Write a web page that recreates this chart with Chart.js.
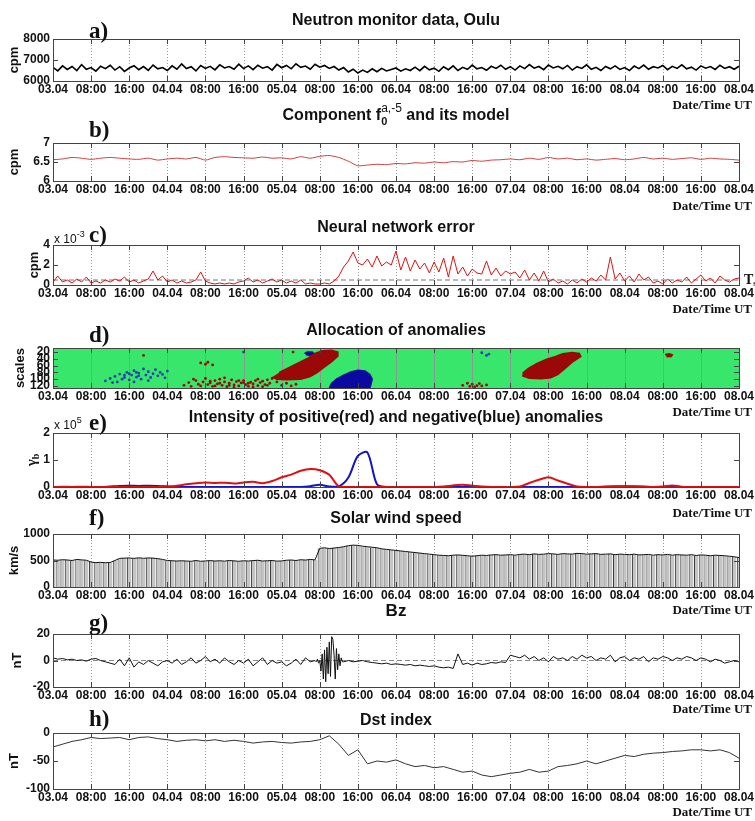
<!DOCTYPE html>
<html>
<head>
<meta charset="utf-8">
<title>Neutron monitor anomalies</title>
<script src="https://cdn.jsdelivr.net/npm/chart.js@4.4.1/dist/chart.umd.min.js"></script>
<style>
  html, body { margin: 0; padding: 0; background: #fff; overflow: hidden; }
  #page { position: relative; width: 755px; height: 821px; }
  #page canvas { position: absolute; left: 0; }
</style>
</head>
<body>
<div id="page"></div>
<script>
const SANS = '"Liberation Sans", Arial, sans-serif';
const SERIF = '"Liberation Serif", "Times New Roman", serif';
Chart.defaults.font.family = SANS;

// time axis: hours counted from 03.04 00:00 UT, one tick every 8 hours
const tickLabels = ['03.04', '08:00', '16:00', '04.04', '08:00', '16:00', '05.04', '08:00', '16:00',
  '06.04', '08:00', '16:00', '07.04', '08:00', '16:00', '08.04', '08:00', '16:00', '08.04'];
const tickStep = 8;

// y tick values of each panel
const yTicksA = [6000, 7000, 8000];
const yTicksB = [6, 6.5, 7];
const yTicksC = [0, 2, 4];
const yTicksD = [20, 40, 60, 80, 100, 120];
const yTicksE = [0, 1, 2];
const yTicksF = [0, 500, 1000];
const yTicksG = [-20, 0, 20];
const yTicksH = [-100, -50, 0];

// a) neutron monitor Oulu, cpm, hourly
const neutron = [
  6650, 6480, 6720, 6550, 6690, 6500, 6780, 6560, 6640, 6470, 6700, 6590, 6750, 6520, 6680, 6460, 6620, 6730, 6540, 6690, 6510, 6760, 6580, 6640,
  6500, 6720, 6560, 6810, 6590, 6680, 6480, 6740, 6600, 6700, 6530, 6770, 6620, 6690, 6560, 6800, 6590, 6720, 6540, 6750, 6610, 6680, 6520, 6790,
  6630, 6740, 6580, 6820, 6650, 6710, 6560, 6800, 6660, 6740, 6600, 6690, 6520, 6640, 6430, 6560, 6380, 6520, 6410, 6580, 6440, 6600, 6480, 6550,
  6620, 6470, 6580, 6500, 6660, 6490, 6700, 6530, 6610, 6460, 6680, 6540, 6720, 6500, 6650, 6560, 6760, 6580, 6640, 6510, 6700, 6600, 6750, 6560,
  6680, 6520, 6720, 6590, 6780, 6610, 6690, 6540, 6760, 6620, 6700, 6580, 6740, 6520, 6680, 6600, 6770, 6560, 6650, 6500, 6690, 6580, 6720, 6550,
  6640, 6500, 6710, 6590, 6760, 6560, 6680, 6620, 6740, 6540, 6700, 6600, 6770, 6580, 6660, 6520, 6720, 6610, 6690, 6550, 6750, 6600, 6680, 6560, 6700
];

// b) component f0 and its model (x1000 cpm), every 2 hours
const component = [
  6.56, 6.58, 6.62, 6.60, 6.57, 6.60, 6.62, 6.60, 6.58, 6.57,
  6.60, 6.55, 6.58, 6.60, 6.58, 6.62, 6.55, 6.62, 6.64, 6.62,
  6.61, 6.60, 6.63, 6.60, 6.61, 6.58, 6.64, 6.60, 6.65, 6.67,
  6.62, 6.52, 6.40, 6.42, 6.44, 6.43, 6.46, 6.45, 6.48, 6.47,
  6.50, 6.48, 6.51, 6.50, 6.54, 6.52, 6.55, 6.56, 6.58, 6.56,
  6.60, 6.57, 6.62, 6.58, 6.60, 6.56, 6.58, 6.55, 6.57, 6.59,
  6.56, 6.58, 6.62, 6.58, 6.60, 6.57, 6.59, 6.61, 6.57, 6.60,
  6.58, 6.57, 6.55
];

// c) neural network error (x 10^-3), hourly, and threshold Ts
const nnError = [
  0.3, 0.9, 0.3, 0.5, 0.2, 0.6, 0.3, 0.8, 0.2, 0.4, 0.2, 0.5,
  0.3, 0.6, 0.4, 0.8, 0.3, 0.5, 0.2, 0.4, 0.6, 1.4, 0.5, 0.9,
  0.3, 0.5, 0.2, 0.4, 0.2, 0.3, 0.5, 1.3, 0.4, 0.2, 0.1, 0.2,
  0.1, 0.2, 0.1, 0.3, 0.4, 0.7, 0.3, 0.5, 0.2, 0.4, 0.6, 0.3,
  0.5, 0.2, 0.4, 0.2, 0.5, 0.1, 0.2, 0.1, 0.1, 0.2, 0.1, 0.4,
  0.9, 1.8, 2.4, 3.3, 2.2, 2.0, 2.6, 1.8, 2.9, 1.9, 2.3, 2.0,
  3.4, 1.5, 2.8, 1.4, 2.5, 1.6, 2.2, 1.2, 2.3, 1.3, 2.7, 0.8,
  2.9, 1.1, 1.8, 0.9, 1.6, 1.2, 1.1, 2.4, 1.0, 1.7, 0.9, 1.4,
  1.1, 1.3, 0.7, 1.5, 0.5, 1.2, 0.4, 1.4, 0.3, 0.6, 0.2, 0.4,
  0.1, 0.5, 0.2, 0.6, 0.3, 0.7, 0.4, 1.0, 0.5, 2.8, 0.6, 1.2,
  0.4, 0.9, 0.3, 1.1, 0.5, 0.8, 0.2, 0.4, 0.1, 0.6, 0.2, 0.5,
  0.3, 0.8, 0.2, 0.6, 1.0, 0.4, 0.7, 0.2, 0.9, 0.5, 0.3, 0.6, 0.7
];
const threshold = 0.5;

// d) allocation of anomalies: [hour, scale] outlines of the solid regions and scattered cells
const redRegion1 = [[46, 94], [47, 100], [49, 102], [52, 100], [54, 92], [55.5, 80], [57, 64], [58.5, 48], [59.8, 32],
  [59.8, 20], [58.5, 15], [56.5, 16], [55, 24], [53.5, 38], [51.5, 52], [49.5, 66], [47.5, 80]];
const redRegion2 = [[98.5, 90], [100, 97], [102.5, 99], [104.5, 96], [106, 86], [107.5, 68], [109, 50], [110.8, 33],
  [110.5, 24], [109, 21], [107, 25], [105.5, 33], [103.5, 42], [101.5, 54], [99.8, 68], [98.6, 82]];
const redRegion3 = [[128.5, 27], [129.3, 25], [130, 28], [129.8, 33], [128.8, 34]];
const blueRegion1 = [[58, 126], [58.5, 112], [59.5, 100], [61, 88], [62.5, 79], [64, 74], [65.5, 76], [66.5, 86],
  [67, 100], [66.8, 112], [66.5, 126]];
const blueRegion2 = [[52.8, 24], [53.4, 20], [54.4, 20], [54.8, 25], [54, 29], [53.1, 28]];
const redCells = [[27.5, 118], [28.5, 110], [29, 121], [30, 104], [30.5, 115], [31, 120], [31.5, 108], [32, 98],
  [32.5, 116], [33, 111], [33.5, 121], [34, 104], [34.5, 114], [35, 100], [35.5, 118], [36, 108], [36.5, 122],
  [37, 112], [37.5, 102], [38, 117], [38.5, 107], [39, 120], [39.5, 111], [40, 104], [40.5, 116], [41, 121],
  [41.5, 109], [42, 114], [42.5, 104], [43, 119], [43.5, 110], [44, 106], [44.5, 116], [45, 102], [45.5, 112],
  [46, 98], [47, 108], [48, 118], [49, 112], [50, 120], [51, 115], [29.5, 100], [36, 96], [38, 124], [42, 123],
  [33, 106], [35, 112], [37, 118], [39, 104], [41, 112], [43, 100], [45, 118], [34, 120], [40, 110], [44, 122],
  [31, 52], [32, 56], [32.5, 50], [33.5, 58], [19, 30], [50.4, 20],
  [86, 118], [87, 112], [87.5, 121], [88, 115], [89, 119], [89.5, 113], [90, 120], [91, 117], [88.5, 123]];
const blueCells = [[11, 105], [12, 98], [13, 92], [13.5, 108], [14, 85], [15, 95], [15.5, 80], [16, 102],
  [16.5, 88], [17, 75], [17.5, 94], [18, 82], [18.5, 100], [19, 70], [19.5, 88], [20, 78], [20.5, 95], [21, 84],
  [21.5, 72], [22, 90], [22.5, 80], [23, 86], [24, 76], [12.5, 110], [14.5, 100], [17, 108], [20, 104],
  [23.5, 96], [16, 84], [17.5, 80], [15, 88], [18, 90], [90, 22], [91, 30], [91.5, 26], [40, 20]];

// e) intensity of positive (red) and negative (blue) anomalies (x 10^5), every 2 hours
const positiveAnom = [
  0, 0.01, 0, 0.01, 0, 0, 0, 0, 0, 0,
  0, 0, 0.02, 0.05, 0.10, 0.14, 0.17, 0.15, 0.16, 0.13,
  0.17, 0.19, 0.14, 0.22, 0.36, 0.46, 0.60, 0.67, 0.62, 0.45,
  0.02, 0, 0, 0, 0, 0, 0, 0, 0, 0,
  0, 0.02, 0.06, 0.08, 0.05, 0.02, 0, 0, 0, 0.02,
  0.15, 0.27, 0.36, 0.24, 0.12, 0.02, 0, 0, 0, 0,
  0, 0, 0, 0, 0.02, 0.06, 0.01, 0, 0, 0,
  0, 0, 0
];
const negativeAnom = [
  0, 0, 0, 0, 0, 0, 0.02, 0.04, 0.05, 0.04,
  0.05, 0.04, 0.02, 0, 0, 0, 0, 0, 0, 0,
  0, 0, 0, 0, 0, 0, 0, 0.03, 0.08, 0.02,
  0.02, 0.35, 1.15, 1.28, 0.10, 0, 0, 0, 0, 0,
  0, 0, 0, 0, 0, 0, 0, 0, 0, 0,
  0, 0, 0, 0, 0, 0, 0, 0, 0.02, 0.03,
  0.03, 0.03, 0.02, 0, 0, 0, 0, 0, 0, 0,
  0, 0, 0
];

// f) solar wind speed, km/s, hourly
const windSpeed = [
  510, 505, 515, 510, 500, 520, 512, 505, 470, 460, 465, 458,
  462, 500, 540, 545, 548, 540, 550, 542, 548, 545, 535, 520,
  500, 495, 490, 495, 490, 485, 500, 485, 492, 498, 490, 495,
  488, 500, 493, 485, 495, 490, 498, 505, 490, 495, 500, 488,
  492, 505, 510, 500, 515, 508, 520, 512, 730, 740, 725, 735,
  745, 760, 780, 790, 785, 770, 760, 750, 740, 720, 710, 700,
  690, 680, 670, 660, 650, 640, 630, 620, 610, 600, 595, 590,
  600, 605, 598, 590, 580, 590, 600, 595, 605, 610, 600, 605,
  610, 600, 615, 620, 610, 625, 615, 620, 630, 625, 615, 630,
  625, 620, 635, 630, 620, 625, 630, 615, 620, 625, 610, 620,
  615, 610, 620, 605, 610, 615, 600, 610, 605, 615, 600, 610,
  605, 600, 610, 595, 605, 600, 590, 600, 595, 590, 580, 570, 555
];

// g) Bz, nT, hourly (gap filled by the 15-minute storm record)
const bz = [
  2, 1, 1.5, 0.5, 1, 0, 0.5, -0.5, 1, 1.5, 0, -1,
  -2, -3, 1, -4, 2, -5, -1, -3, 0, -2, -4, -1,
  0, -2, 1, -3, -1, 2, -2, 0, 3, -1, 1, -2,
  2, -1, -3, 0, -2, 1, -4, -1, 2, -3, 0, -2,
  -1, -4, -2, 1, -3, 2, -1, 0, null, null, null, null,
  null, -1, 0, -1, -0.5, 0, -1, -1.5, -2, -2.5, -2, -3,
  -2.5, -3, -3.5, -3, -4, -3.5, -4, -4.5, -4, -5, -5.5, -5,
  -6, 5, -3, -2, -3.5, -2, -3, -2.5, -1.5, -2, -1, -1.5,
  4, 3, 2, 4, 1, 3, 0, 2, -1, 3, 1, 2,
  0, 3, 1, 4, 2, 3, 0, 2, 1, 4, -1, 2,
  3, 0, 2, 1, 3, -1, 2, 1, 3, 2, 0, 2,
  1, 3, 2, 0, 2, 1, -1, 1, 0, -2, -1, 0, -1
];
const bzStormStart = 55;
const bzStorm = [0, -1, 1, -2, 0, -8, 5, -14, 8, -16, 10, -10, 14, -12, 18, 16, 4, -14, 9, -7, 5, -4, 2, -1, -1];

// h) Dst index, nT, every 2 hours
const dst = [
  -25, -20, -15, -12, -8, -10, -9, -8, -12, -8,
  -7, -10, -12, -15, -13, -12, -14, -12, -15, -13,
  -15, -18, -16, -15, -17, -18, -16, -15, -12, -5,
  -20, -40, -30, -55, -50, -52, -48, -55, -60, -58,
  -62, -60, -65, -70, -68, -75, -78, -75, -72, -70,
  -65, -70, -68, -60, -58, -55, -50, -55, -50, -45,
  -40, -42, -38, -36, -35, -33, -32, -30, -30, -32,
  -30, -35, -45
];

// ---------- helpers ----------
const series = (vals, step, start = 0) => vals.map((v, i) => ({x: start + i * step, y: v}));
const pts = arr => arr.map(([x, y]) => ({x, y}));
const lastHour = (tickLabels.length - 1) * tickStep;

const RED = '#e01010';
const DARKRED = '#9a0808';
const BLUE = '#1414c8';
const NAVY = '#0a0aa0';
const GREEN = '#38e66c';

const PAD_TOP = 40, PAD_BOTTOM = 38, X_AXIS_H = 18;
const B16 = 'bold 16px ' + SANS;

function rich(ctx, parts, x, y, align) {
  const widths = parts.map(p => { ctx.font = p.f; return ctx.measureText(p.t).width; });
  let w = 0;
  parts.forEach((p, i) => { if (!p.keep) w += widths[i]; });
  let cx = align === 'center' ? x - w / 2 : align === 'right' ? x - w : x;
  ctx.textAlign = 'left';
  ctx.textBaseline = 'middle';
  ctx.fillStyle = '#111';
  parts.forEach((p, i) => {
    ctx.font = p.f;
    ctx.fillText(p.t, cx, y + (p.dy || 0));
    if (!p.keep) cx += widths[i];
  });
}

function decor(p, top) {
  const Y = v => v - top;
  return {
    id: 'decor',
    beforeDatasetsDraw(chart) {
      const {ctx, chartArea: a, scales: {x}} = chart;
      ctx.save();
      if (p.bg) { ctx.fillStyle = p.bg; ctx.fillRect(a.left, a.top, a.width, a.height); }
      ctx.strokeStyle = p.gridColor || '#9a9a9a';
      ctx.lineWidth = 1;
      ctx.setLineDash(p.gridDash || [1, 2]);
      x.ticks.forEach(t => {
        const px = Math.round(x.getPixelForValue(t.value)) + 0.5;
        ctx.beginPath(); ctx.moveTo(px, a.top); ctx.lineTo(px, a.bottom); ctx.stroke();
      });
      ctx.restore();
    },
    afterDatasetsDraw(chart) {
      const {ctx, chartArea: a, scales: {x, y}} = chart;
      ctx.save();
      ctx.strokeStyle = '#444';
      ctx.lineWidth = 1;
      ctx.strokeRect(Math.round(a.left) + 0.5, Math.round(a.top) + 0.5, Math.round(a.width), Math.round(a.height));
      ctx.beginPath();
      x.ticks.forEach(t => {
        const px = Math.round(x.getPixelForValue(t.value)) + 0.5;
        ctx.moveTo(px, a.top); ctx.lineTo(px, a.top + 5);
        ctx.moveTo(px, a.bottom); ctx.lineTo(px, a.bottom - 5);
      });
      y.ticks.forEach(t => {
        const py = Math.round(y.getPixelForValue(t.value)) + 0.5;
        ctx.moveTo(a.left, py); ctx.lineTo(a.left + 5, py);
        ctx.moveTo(a.right, py); ctx.lineTo(a.right - 5, py);
      });
      ctx.stroke();
      ctx.restore();
    },
    afterDraw(chart) {
      const {ctx, chartArea: a, scales: {y}} = chart;
      ctx.save();
      rich(ctx, p.title, (a.left + a.right) / 2, Y(p.titleY), 'center');
      rich(ctx, [{t: p.letter, f: 'bold 23px ' + SERIF}], 89, Y(p.letterY), 'left');
      rich(ctx, [{t: 'Date/Time UT', f: 'bold 13px ' + SERIF}], 752, Y(p.dateY), 'right');
      ctx.save();
      ctx.translate(p.ylabX, (a.top + a.bottom) / 2);
      ctx.rotate(-Math.PI / 2);
      rich(ctx, p.ylab, 0, 0, 'center');
      ctx.restore();
      if (p.exp) rich(ctx, p.exp, 54, Y(p.expY), 'left');
      if (p.ts !== undefined) {
        const py = y.getPixelForValue(p.ts);
        rich(ctx, [{t: 'T', f: 'bold 14px ' + SERIF}, {t: 's', f: 'bold 9px ' + SERIF, dy: 4}], a.right + 5, py, 'left');
      }
      ctx.restore();
    }
  };
}

function xScale() {
  return {
    type: 'linear', min: 0, max: lastHour, offset: false,
    afterBuildTicks: s => { s.ticks = tickLabels.map((_, i) => ({value: i * tickStep})); },
    ticks: {autoSkip: false, maxRotation: 0, padding: 1, color: '#111',
      font: {family: SANS, size: 12, weight: 'bold'}, callback: (v, i) => tickLabels[i]},
    grid: {display: false, drawTicks: false, tickLength: 0},
    border: {display: false},
    afterFit: s => { s.height = X_AXIS_H; s.paddingLeft = 0; s.paddingRight = 0; }
  };
}

function yScale(c) {
  return {
    type: 'linear', min: c.min, max: c.max, reverse: !!c.reverse,
    afterBuildTicks: s => { s.ticks = c.ticks.map(v => ({value: v})); },
    ticks: {autoSkip: false, padding: 3, color: '#111',
      font: {family: SANS, size: 12, weight: 'bold'}, callback: v => v},
    grid: {display: false, drawTicks: false, tickLength: 0},
    border: {display: false},
    afterFit: s => { s.width = 53; }
  };
}

function makePanel(p) {
  const cv = document.createElement('canvas');
  const top = p.plotTop - PAD_TOP;
  cv.width = 755;
  cv.height = p.plotBottom - p.plotTop + PAD_TOP + PAD_BOTTOM;
  cv.style.top = top + 'px';
  document.getElementById('page').appendChild(cv);
  return new Chart(cv, {
    type: p.type || 'line',
    data: {datasets: p.datasets},
    options: {
      responsive: false, animation: false, devicePixelRatio: 1,
      layout: {padding: {top: PAD_TOP, bottom: PAD_BOTTOM - X_AXIS_H, left: 0, right: 16}},
      plugins: {legend: {display: false}, tooltip: {enabled: false}},
      elements: {point: {radius: 0}, line: {tension: 0}},
      scales: {x: xScale(), y: yScale(p.y)}
    },
    plugins: [decor(p, top)]
  });
}

const ylab = t => [{t, f: 'bold 13px ' + SANS}];
const expLabel = e => [{t: 'x 10', f: '12px ' + SANS}, {t: e, f: '9px ' + SANS, dy: -5}];

// a)
makePanel({
  plotTop: 39, plotBottom: 81, titleY: 21, letter: 'a)', letterY: 32, dateY: 106,
  title: [{t: 'Neutron monitor data, Oulu', f: B16}], ylab: ylab('cpm'), ylabX: 14,
  y: {min: 6000, max: 8000, ticks: yTicksA},
  datasets: [{data: series(neutron, 1), borderColor: '#000', borderWidth: 1.6}]
});

// b)
makePanel({
  plotTop: 143, plotBottom: 181, titleY: 116, letter: 'b)', letterY: 131, dateY: 207,
  title: [{t: 'Component f', f: B16}, {t: '0', f: 'bold 11px ' + SANS, dy: 6, keep: true},
    {t: 'a,-5', f: '12px ' + SANS, dy: -7}, {t: ' and its model', f: B16}],
  ylab: ylab('cpm'), ylabX: 14,
  y: {min: 6, max: 7, ticks: yTicksB},
  datasets: [{data: series(component, 2), borderColor: '#d23c3c', borderWidth: 1, tension: 0.2}]
});

// c)
makePanel({
  plotTop: 245, plotBottom: 285, titleY: 228, letter: 'c)', letterY: 236, dateY: 310,
  title: [{t: 'Neural network error', f: B16}], ylab: ylab('cpm'), ylabX: 34,
  exp: expLabel('-3'), expY: 240, ts: threshold,
  y: {min: 0, max: 4, ticks: yTicksC},
  datasets: [
    {data: series(nnError, 1), borderColor: RED, borderWidth: 1},
    {data: [{x: 0, y: threshold}, {x: lastHour, y: threshold}], borderColor: '#777', borderWidth: 1, borderDash: [5, 3]}
  ]
});

// d)
const region = (arr, color) => ({data: pts(arr), showLine: true, fill: 'shape', backgroundColor: color,
  borderColor: color, borderWidth: 1.5, pointRadius: 0});
const cells = (arr, color) => ({data: pts(arr), backgroundColor: color, borderColor: color,
  pointRadius: 1.4, pointBorderWidth: 0, showLine: false});
makePanel({
  type: 'scatter', bg: GREEN, gridColor: '#8a9a8e', gridDash: [],
  plotTop: 348, plotBottom: 388, titleY: 331, letter: 'd)', letterY: 336, dateY: 413,
  title: [{t: 'Allocation of anomalies', f: B16}], ylab: ylab('scales'), ylabX: 20,
  y: {min: 8, max: 126, reverse: true, ticks: yTicksD},
  datasets: [
    region(redRegion1, DARKRED), region(redRegion2, DARKRED), region(redRegion3, DARKRED),
    region(blueRegion1, NAVY), region(blueRegion2, NAVY),
    cells(redCells, DARKRED), cells(blueCells, '#1f40b0')
  ]
});

// e)
makePanel({
  plotTop: 433, plotBottom: 487, titleY: 418, letter: 'e)', letterY: 424, dateY: 514,
  title: [{t: 'Intensity of positive(red) and negative(blue) anomalies', f: B16}],
  ylab: [{t: 'γ', f: 'bold 15px ' + SERIF}, {t: 'b', f: 'bold 10px ' + SERIF, dy: 4}], ylabX: 32,
  exp: expLabel('5'), expY: 426,
  y: {min: 0, max: 2, ticks: yTicksE},
  datasets: [
    {data: series(positiveAnom, 2), borderColor: RED, borderWidth: 2, tension: 0.3},
    {data: series(negativeAnom, 2), borderColor: BLUE, borderWidth: 2, tension: 0.3}
  ]
});

// f)
makePanel({
  type: 'bar',
  plotTop: 534, plotBottom: 587, titleY: 519, letter: 'f)', letterY: 519, dateY: 611,
  title: [{t: 'Solar wind speed', f: B16}], ylab: ylab('km/s'), ylabX: 14,
  y: {min: 0, max: 1000, ticks: yTicksF},
  datasets: [
    {type: 'line', data: series(windSpeed, 1), borderColor: '#111', borderWidth: 1},
    {data: series(windSpeed, 1), backgroundColor: '#c4c4c4', borderColor: '#3a3a3a',
      borderWidth: {left: 1, right: 0, top: 0, bottom: 0}, barPercentage: 0.9, categoryPercentage: 1}
  ]
});

// g)
makePanel({
  plotTop: 634, plotBottom: 687, titleY: 611, letter: 'g)', letterY: 624, dateY: 710,
  title: [{t: 'Bz', f: 'bold 17px ' + SANS}], ylab: ylab('nT'), ylabX: 17,
  y: {min: -20, max: 20, ticks: yTicksG},
  datasets: [
    {data: series(bz, 1), borderColor: '#111', borderWidth: 1, spanGaps: false},
    {data: series(bzStorm, 0.25, bzStormStart), borderColor: '#111', borderWidth: 1},
    {data: [{x: 0, y: 0}, {x: lastHour, y: 0}], borderColor: '#888', borderWidth: 1, borderDash: [5, 3]}
  ]
});

// h)
makePanel({
  plotTop: 733, plotBottom: 789, titleY: 721, letter: 'h)', letterY: 720, dateY: 813,
  title: [{t: 'Dst index', f: B16}], ylab: ylab('nT'), ylabX: 14,
  y: {min: -100, max: 0, ticks: yTicksH},
  datasets: [{data: series(dst, 2), borderColor: '#333', borderWidth: 1}]
});
</script>
</body>
</html>
